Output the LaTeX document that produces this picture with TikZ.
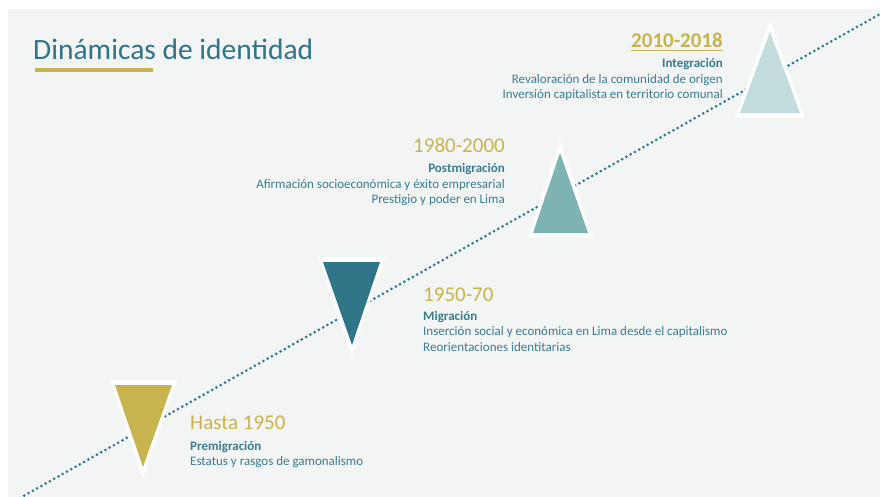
\documentclass[tikz,border=0pt]{standalone}
\usepackage{fontspec}
\setmainfont{Carlito}
\usepackage{tikz}
\usetikzlibrary{positioning, calc}
\definecolor{paper}{RGB}{243, 244, 244}
\definecolor{gold}{RGB}{199, 180, 78}
\definecolor{tealdark}{RGB}{47, 116, 135}
\definecolor{tealdot}{RGB}{48, 122, 146}
\definecolor{tealmid}{RGB}{125, 179, 179}
\definecolor{teallight}{RGB}{195, 221, 223}
\definecolor{tealtext}{RGB}{58, 125, 143}

\tikzset{
  period/.style={inner sep=0pt, text=gold, font=\fontsize{21}{25}\selectfont},
  phase/.style={inner sep=0pt, text=tealtext, font=\fontsize{13}{15.5}\selectfont},
}

\begin{document}
\begin{tikzpicture}[x=1pt, y=-1pt]
    % Background
    \useasboundingbox (0,0) rectangle (880,497);
    \fill[white] (0,0) rectangle (880,497);
    \fill[paper] (8,9) rectangle (880,497);

    % Title
    \node[anchor=base west, inner sep=0pt, text=tealdark, font=\fontsize{29.5}{33}\selectfont] (title) at (33,60) {Dinámicas de identidad};
    \draw[gold, line width=4.5pt] (35,70) -- (153,70);

    % Timeline
    \coordinate (lineStart) at (20,498);
    \coordinate (lineEnd) at (880,14);
    \draw[tealdot, line width=3pt, line cap=round, dash pattern=on 0pt off 4.9pt] (lineStart) -- (lineEnd);

    % Triangles
    \fill[white] (110,380) -- (177,380) -- (143,479) -- cycle;
    \fill[gold] (115,385) -- (172,385) -- (143,467) -- cycle;
    \fill[white] (318,257) -- (385,257) -- (352,357) -- cycle;
    \fill[tealdark] (323,262) -- (380,262) -- (352,345) -- cycle;
    \fill[white] (560,140) -- (593,238) -- (528,238) -- cycle;
    \fill[tealmid] (560,153) -- (588,233) -- (533,233) -- cycle;
    \fill[white] (770,20) -- (805,118) -- (735,118) -- cycle;
    \fill[teallight] (770,32) -- (800,113) -- (740,113) -- cycle;

    % Labels
    \node[period, anchor=east, font=\fontsize{21}{25}\selectfont\bfseries] (y2010) at (723,40) {2010-2018};
    \draw[gold, line width=1.4pt] ([yshift=-3pt]y2010.south west) -- ([yshift=-3pt]y2010.south east);
    \node[phase, align=right, below=11pt of y2010.south east, anchor=north east] (integ) {\textbf{Integración}\\Revaloración de la comunidad de origen\\Inversión capitalista en territorio comunal};

    \node[period, anchor=east] (y1980) at (505,145) {1980-2000};
    \node[phase, align=right, below=11pt of y1980.south east, anchor=north east] (postmig) {\textbf{Postmigración}\\Afirmación socioeconómica y éxito empresarial\\Prestigio y poder en Lima};

    \node[period, anchor=west] (y1950) at (423,295) {1950-70};
    \node[phase, align=left, below=9pt of y1950.south west, anchor=north west] (mig) {\textbf{Migración}\\Inserción social y económica en Lima desde el capitalismo\\Reorientaciones identitarias};

    \node[period, anchor=west] (hasta) at (190,423) {Hasta 1950};
    \node[phase, align=left, below=11pt of hasta.south west, anchor=north west] (premig) {\textbf{Premigración}\\Estatus y rasgos de gamonalismo};
\end{tikzpicture}
\end{document}
